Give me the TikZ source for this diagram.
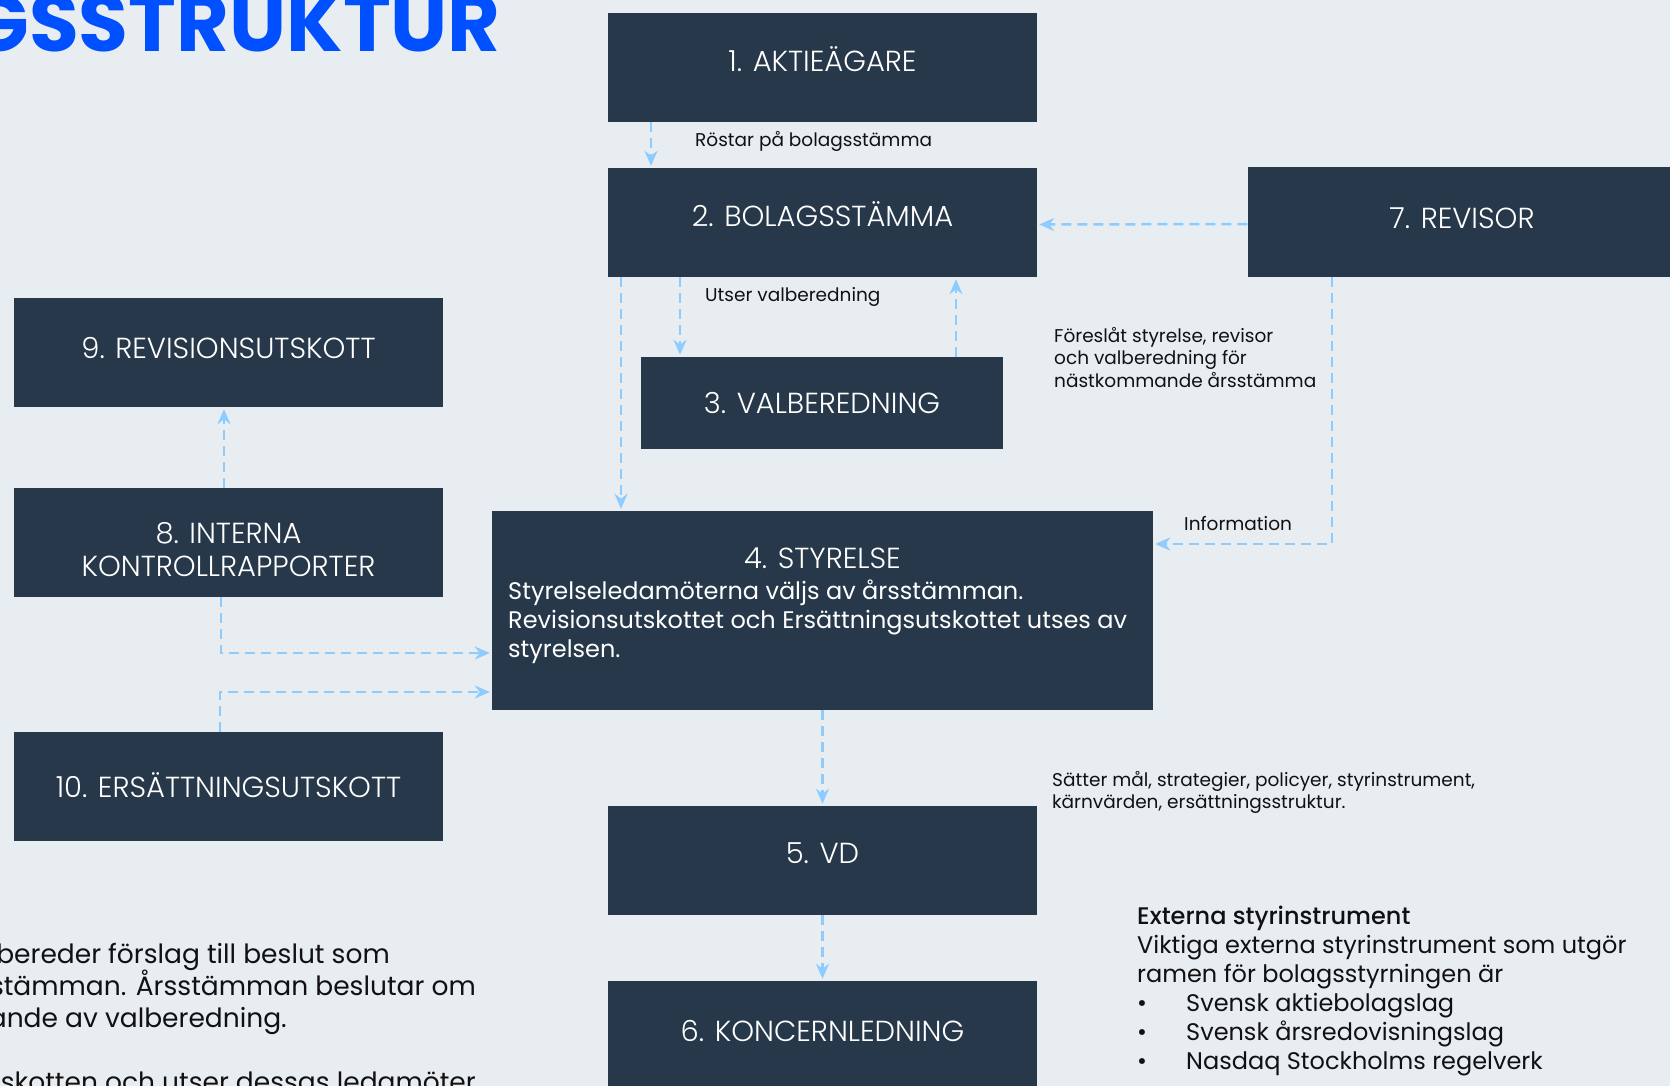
\documentclass[tikz,border=0pt]{standalone}
\usepackage{fontspec}
\setmainfont{Poppins}
\IfFontExistsTF{Poppins Light}{\newfontfamily\lattfont{Poppins Light}}{\newfontfamily\lattfont{Poppins}}
\IfFontExistsTF{Poppins Medium}{\newfontfamily\mellanfont{Poppins Medium}}{\newfontfamily\mellanfont{Poppins}[FakeBold=1]}
\usetikzlibrary{arrows.meta}
\definecolor{bakgrund}{HTML}{E8EDF2}
\definecolor{boksfarg}{HTML}{263849}
\definecolor{pilfarg}{HTML}{8ECCFF}
\definecolor{rubrikfarg}{HTML}{0050FF}
\definecolor{textfarg}{HTML}{111111}
\begin{document}
\begin{tikzpicture}[x=1pt, y=-1pt,
    boktext/.style={text=white, inner sep=0pt, align=center,
      font=\lattfont\fontsize{29}{33}\selectfont},
    boks/.style={boktext, fill=boksfarg, minimum width=429pt, minimum height=109pt,
      text depth=#1},
    boks/.default=0pt,
    pil/.style={draw=pilfarg, line width=2.5pt, dash pattern=on 10pt off 6pt,
      -{Stealth[length=15pt,width=13pt]}, shorten >=2pt},
    etikett/.style={inner sep=0pt, anchor=west, align=left, text=textfarg,
      font=\fontsize{18.5}{22.5}\selectfont}
  ]
  \fill[bakgrund] (0,0) rectangle (1670,1086);
  \clip (0,0) rectangle (1670,1086);

  \node[anchor=base east, inner sep=0pt, text=rubrikfarg,
    font=\bfseries\fontsize{81}{86}\selectfont] (rubrik) at (501,52) {GSSTRUKTUR};

  % boxar
  \node[boks=17pt] (b1) at (822.5,67.5) {1. AKTIEÄGARE};
  \node[boks=17pt] (b2) at (822.5,222.5) {2. BOLAGSSTÄMMA};
  \node[boks=8.5pt] (b7) at (1462,222) {7. REVISOR};
  \node[boks, minimum width=362pt, minimum height=92pt] (b3) at (822,403) {3. VALBEREDNING};
  \node[boks=8.5pt] (b9) at (228.5,352.5) {9. REVISIONSUTSKOTT};
  \node[boks] (b8) at (228.5,542.5) {};
  \node[boktext] (b8text) at (228.5,550) {8. INTERNA\\KONTROLLRAPPORTER};
  \node[boks=2pt] (b10) at (228.5,786.5) {10. ERSÄTTNINGSUTSKOTT};
  \node[boks, minimum width=661pt, minimum height=199pt] (b4) at (822.5,610.5) {};
  \node[boktext] (b4titel) at (822.5,558) {4. STYRELSE};
  \node[anchor=north west, inner sep=0pt, text=white, align=left,
    font=\fontsize{24}{29}\selectfont] (b4text) at (508,580)
    {Styrelseledamöterna väljs av årsstämman.\\Revisionsutskottet och Ersättningsutskottet utses av\\styrelsen.};
  \node[boks=14pt] (b5) at (822.5,860.5) {5. VD};
  \node[boks=8.5pt] (b6) at (822.5,1035.5) {6. KONCERNLEDNING};

  % etiketter
  \node[etikett] (l1) at (695,141) {Röstar på bolagsstämma};
  \node[etikett] (l2) at (705,297) {Utser valberedning};
  \node[etikett, anchor=north west] (l3) at (1054,327)
    {Föreslåt styrelse, revisor\\och valberedning för\\nästkommande årsstämma};
  \node[etikett] (l4) at (1184,524) {Information};
  \node[etikett, anchor=north west] (l5) at (1052,771)
    {Sätter mål, strategier, policyer, styrinstrument,\\kärnvärden, ersättningsstruktur.};

  \node[etikett, anchor=north west, font=\fontsize{24}{29}\selectfont] (extern) at (1137,906)
    {{\mellanfont Externa styrinstrument}\\
     Viktiga externa styrinstrument som utgör\\
     ramen för bolagsstyrningen är\\
     \makebox[49pt][l]{\textbullet}Svensk aktiebolagslag\\
     \makebox[49pt][l]{\textbullet}Svensk årsredovisningslag\\
     \makebox[49pt][l]{\textbullet}Nasdaq Stockholms regelverk};

  \foreach \rad/\xslut/\ybas [count=\i] in {
      {bereder förslag till beslut som}/390/963,
      {stämman. Årsstämman beslutar om}/476/995,
      {ande av valberedning.}/287/1027,
      {skotten och utser dessas ledamöter}/476/1091}
    \node[anchor=base east, inner sep=0pt, text=textfarg,
      font=\fontsize{26.5}{32}\selectfont] (vtext\i) at (\xslut,\ybas) {\rad};

  % pilar
  \draw[pil] ([xshift=-171.5pt]b1.south) -- ([xshift=-171.5pt]b2.north);
  \draw[pil] ([yshift=-2pt]b7.west) -- ([yshift=-2pt]b2.east);
  \draw[pil] ([xshift=-142.5pt]b2.south) -- ([xshift=-142pt]b3.north);
  \draw[pil] ([xshift=134pt]b3.north) -- ([xshift=133.5pt]b2.south);
  \draw[pil] ([xshift=-201.5pt]b2.south) -- ([xshift=-201.5pt]b4.north);
  \draw[pil] ([xshift=-4.5pt]b8.north) -- ([xshift=-4.5pt]b9.south);
  \draw[pil] ([xshift=-7.5pt]b8.south) |- ([yshift=-42.5pt]b4.west);
  \draw[pil] ([xshift=-8.5pt]b10.north) |- ([yshift=-81.5pt]b4.west);
  \draw[pil] ([xshift=-130pt]b7.south) |- ([yshift=66.5pt]b4.east);
  \draw[pil] (b4.south) -- (b5.north);
  \draw[pil] (b5.south) -- (b6.north);
\end{tikzpicture}
\end{document}
